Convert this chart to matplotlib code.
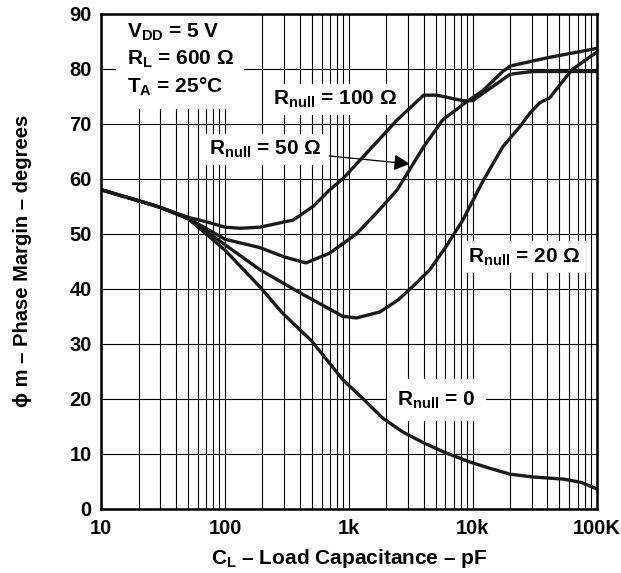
import matplotlib
matplotlib.use("Agg")
import matplotlib.pyplot as plt
from matplotlib.ticker import FixedLocator, NullFormatter

plt.rcParams["font.family"] = ["Liberation Sans", "DejaVu Sans"]
plt.rcParams["font.weight"] = "bold"
plt.rcParams["mathtext.fontset"] = "custom"
plt.rcParams["mathtext.rm"] = "Liberation Sans:bold"
plt.rcParams["mathtext.it"] = "Liberation Sans:bold"
plt.rcParams["mathtext.bf"] = "Liberation Sans:bold"

# load capacitance (pF) / phase margin (degrees)
cl_r0 = [10, 20, 30, 50, 70, 100, 190, 290, 500, 890, 1300, 1870, 2700, 4000, 6000, 9500, 14000, 20000, 30000, 54000, 75000, 100000]
pm_r0 = [58, 56, 54.8, 52.8, 50, 47, 40.4, 35.6, 30.5, 23.5, 20, 16.5, 14, 12, 10.2, 8.5, 7.3, 6.3, 5.8, 5.4, 4.8, 3.6]

cl_r20 = [10, 20, 30, 50, 70, 100, 190, 400, 890, 1150, 1780, 2500, 3300, 4500, 6000, 8300, 12000, 17400, 24000, 29000, 34600, 41700, 50000, 63000, 80000, 100000]
pm_r20 = [58, 56, 54.8, 52.8, 50.5, 48, 43.5, 39.3, 35, 34.7, 35.8, 38, 40.5, 43.5, 47.5, 52.5, 59.5, 65.8, 69.5, 72, 73.8, 74.7, 77, 79.8, 81.5, 83]

cl_r50 = [10, 20, 30, 50, 70, 100, 190, 300, 450, 700, 1150, 1700, 2450, 4000, 5700, 8900, 12000, 17400, 20000, 40000, 100000]
pm_r50 = [58, 56, 54.8, 52.8, 51, 49, 47.5, 45.8, 44.7, 46.5, 50, 54, 58, 65.8, 70.7, 74, 76, 79.5, 80.5, 82, 83.7]

cl_r100 = [10, 20, 30, 50, 70, 100, 132, 191, 354, 515, 700, 891, 1300, 2450, 4000, 5100, 8300, 10000, 12000, 20000, 30000, 100000]
pm_r100 = [58, 56, 54.8, 53, 52.2, 51.2, 51, 51.2, 52.5, 55, 58, 60, 64, 70.7, 75.2, 75.2, 74.2, 74.2, 75.5, 79, 79.5, 79.5]

x_ticks = [10, 100, 1000, 10000, 100000]
x_labels = ["10", "100", "1k", "10k", "100K"]
y_ticks = list(range(0, 91, 10))

fig = plt.figure(figsize=(6.21, 5.73), dpi=100)
ax = fig.add_axes([0.163, 0.112, 0.798, 0.864])

for cl, pm in [(cl_r0, pm_r0), (cl_r20, pm_r20), (cl_r50, pm_r50), (cl_r100, pm_r100)]:
    ax.plot(cl, pm, color="#1a1a1a", lw=2.4, solid_capstyle="round", solid_joinstyle="round", zorder=4)

ax.set_xscale("log")
ax.set_xlim(10, 100000)
ax.set_ylim(0, 90)
ax.xaxis.set_major_locator(FixedLocator(x_ticks))
ax.set_xticklabels(x_labels)
minors = [m * d for d in [10, 100, 1000, 10000] for m in range(2, 10)]
ax.xaxis.set_minor_locator(FixedLocator(minors))
ax.xaxis.set_minor_formatter(NullFormatter())
ax.set_yticks(y_ticks)
ax.grid(True, which="both", axis="x", color="black", lw=0.8)
ax.grid(True, which="major", axis="y", color="black", lw=0.8)
ax.tick_params(which="both", length=0, labelsize=14.5, pad=7)
for s in ax.spines.values():
    s.set_linewidth(1.8)
    s.set_zorder(6)

ax.set_xlabel("C$_\\mathregular{L}$ – Load Capacitance – pF", fontsize=15, fontweight="bold", labelpad=7)
ax.set_ylabel("ϕ m – Phase Margin – degrees", fontsize=14.5, fontweight="bold", labelpad=27)

fs = 15
box = dict(boxstyle="square,pad=0.25", fc="white", ec="none")
ax.text(16, 88.5, "V$_\\mathregular{DD}$ = 5 V\nR$_\\mathregular{L}$ = 600 Ω\nT$_\\mathregular{A}$ = 25°C",
        fontsize=fs, fontweight="bold", ha="left", va="top", linespacing=1.35,
        bbox=dict(boxstyle="square,pad=0.5", fc="white", ec="none"), zorder=3)
ax.text(775, 74.4, "R$_\\mathregular{null}$ = 100 Ω", fontsize=fs, fontweight="bold",
        ha="center", va="center", bbox=box, zorder=3)
ax.annotate("R$_\\mathregular{null}$ = 50 Ω", xy=(3100, 62.7), xytext=(210, 65.3),
            fontsize=fs, fontweight="bold", ha="center", va="center", bbox=box, zorder=3,
            arrowprops=dict(arrowstyle="-|>", color="black", lw=0.9, mutation_scale=24, shrinkA=2, shrinkB=0))
ax.text(26000, 45.8, "R$_\\mathregular{null}$ = 20 Ω", fontsize=fs, fontweight="bold",
        ha="center", va="center", bbox=box, zorder=3)
ax.text(5100, 19.8, "R$_\\mathregular{null}$ = 0", fontsize=fs, fontweight="bold",
        ha="center", va="center", bbox=dict(boxstyle="square,pad=0.5", fc="white", ec="none"), zorder=3)

fig.savefig("out.png", dpi=100)
